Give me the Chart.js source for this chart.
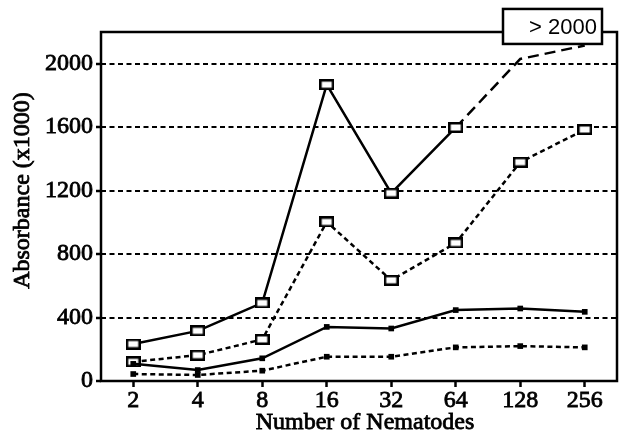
<!DOCTYPE html>
<html><head><meta charset="utf-8">
<script src="https://cdn.jsdelivr.net/npm/chart.js@4/dist/chart.umd.min.js"></script>
<style>html,body{margin:0;padding:0;background:#fff;} #wrap{width:620px;height:436px;}</style>
</head><body><div id="wrap"><canvas id="c" width="620" height="436"></canvas></div>
<script>
// ---- data ----
const categories = ['2', '4', '8', '16', '32', '64', '128', '256'];
const seriesA = [233, 316, 492, 1868, 1184, 1598, 2030, 2115]; // solid, open squares; last two are ">2000" (dashed, unmarked)
const seriesB = [121, 163, 262, 1003, 635, 870, 1379, 1585];   // dotted, open squares
const seriesC = [108, 69, 143, 341, 331, 447, 457, 436];       // solid, filled squares
const seriesD = [44, 38, 65, 153, 153, 212, 220, 212];         // dotted, filled squares
const yLabelStep = 400;
const yMinorStep = 200;
const yMax = 2200;
const overflowLabel = '> 2000';
const overflowValue = 2235;
const xTitle = 'Number of Nematodes';
const yTitle = 'Absorbance (x1000)';

function openSquare() {
  const c = document.createElement('canvas');
  c.width = 15; c.height = 11;
  const g = c.getContext('2d');
  g.fillStyle = '#fff'; g.fillRect(0, 0, 15, 11);
  g.strokeStyle = '#000'; g.lineWidth = 2.5;
  g.strokeRect(1.25, 1.25, 12.5, 8.5);
  return c;
}
const OPEN = openSquare();
const FONT = '"Liberation Serif", "Times New Roman", serif';
const SANS = '"Liberation Sans", Arial, sans-serif';

function heavyText(ctx, text, x, y) {
  ctx.fillText(text, x, y);
  ctx.lineWidth = 0.8; ctx.strokeStyle = '#000';
  ctx.strokeText(text, x, y);
}

const framePlugin = {
  id: 'frame',
  beforeDatasetsDraw(chart) {
    const a = chart.chartArea, ctx = chart.ctx;
    ctx.save();
    ctx.strokeStyle = '#000'; ctx.lineWidth = 2.5;
    ctx.strokeRect(a.left, a.top, a.right - a.left, a.bottom - a.top);
    ctx.restore();
  },
  afterDraw(chart) {
    const ctx = chart.ctx, xs = chart.scales.x, ys = chart.scales.y, a = chart.chartArea;
    // axis titles
    ctx.save();
    ctx.fillStyle = '#000';
    ctx.font = '24px ' + FONT;
    ctx.textAlign = 'center'; ctx.textBaseline = 'middle';
    heavyText(ctx, xTitle, (a.left + a.right) / 2 + 6, 423);
    ctx.translate(23, (a.top + a.bottom) / 2 - 16);
    ctx.rotate(-Math.PI / 2);
    heavyText(ctx, yTitle, 0, 0);
    ctx.restore();
    // overflow box
    const cx = (xs.getPixelForValue(6) + xs.getPixelForValue(7)) / 2;
    const cy = ys.getPixelForValue(overflowValue);
    ctx.save();
    const w = 99, h = 35;
    ctx.fillStyle = '#fff';
    ctx.fillRect(cx - w / 2, cy - h / 2, w, h);
    ctx.strokeStyle = '#000'; ctx.lineWidth = 2.5;
    ctx.strokeRect(cx - w / 2, cy - h / 2, w, h);
    ctx.font = '22px ' + SANS;
    ctx.fillStyle = '#000'; ctx.textAlign = 'right'; ctx.textBaseline = 'middle';
    ctx.fillText(overflowLabel, cx + w / 2 - 5, cy + 1);
    ctx.restore();
  }
};

const common = { fill: false, tension: 0, borderColor: '#000', borderWidth: 2.5, pointBorderColor: '#000', pointBackgroundColor: '#000' };
const tickFont = { family: FONT, size: 24, weight: 'normal' };

new Chart(document.getElementById('c'), {
  type: 'line',
  data: {
    labels: categories,
    datasets: [
      Object.assign({}, common, { data: seriesC, pointStyle: 'rect', pointRadius: 4, pointBorderWidth: 0 }),
      Object.assign({}, common, { data: seriesD, borderDash: [5, 3.5], pointStyle: 'rect', pointRadius: 4, pointBorderWidth: 0 }),
      Object.assign({}, common, { data: seriesB, borderDash: [5, 3.5], pointStyle: OPEN, pointRadius: 6 }),
      Object.assign({}, common, {
        data: seriesA, pointStyle: OPEN,
        pointRadius: seriesA.map((v, i) => i >= 6 ? 0 : 6),
        segment: { borderDash: ctx => ctx.p0DataIndex >= 5 ? [11, 6] : undefined }
      })
    ]
  },
  options: {
    responsive: false, animation: false, devicePixelRatio: 1,
    layout: { autoPadding: false, padding: { top: 32, right: 3, left: 0, bottom: 0 } },
    plugins: { legend: { display: false }, tooltip: { enabled: false }, title: { display: false } },
    scales: {
      x: {
        type: 'category', offset: true,
        grid: { drawOnChartArea: false, color: 'rgba(0,0,0,0)', tickColor: '#000', tickLength: 6, tickWidth: 2.5 },
        border: { display: false },
        ticks: { color: '#000', font: tickFont, padding: -1, maxRotation: 0, autoSkip: false, textStrokeColor: '#000', textStrokeWidth: 0.8 },
        title: { display: false },
        afterFit(s) { s.height = 55; s.paddingRight = 0; s.paddingLeft = 0; }
      },
      y: {
        min: 0, max: yMax,
        grid: {
          color: ctx => (ctx.tick && ctx.tick.value % yLabelStep === 0 && ctx.tick.value > 0 && ctx.tick.value < yMax) ? '#000' : 'rgba(0,0,0,0)',
          lineWidth: 2, tickColor: '#000', tickLength: 5, tickWidth: 2.5, tickBorderDash: [], borderDash: [5, 3.5]
        },
        border: { display: false, dash: [5, 3.5] },
        ticks: {
          stepSize: yMinorStep, color: '#000', font: tickFont, padding: 3, textStrokeColor: '#000', textStrokeWidth: 0.8,
          callback: v => (v % yLabelStep === 0 ? String(v) : '')
        },
        title: { display: false },
        afterFit(s) { s.width = 101; s.paddingTop = 0; s.paddingBottom = 0; }
      }
    }
  },
  plugins: [framePlugin]
});
</script></body></html>
